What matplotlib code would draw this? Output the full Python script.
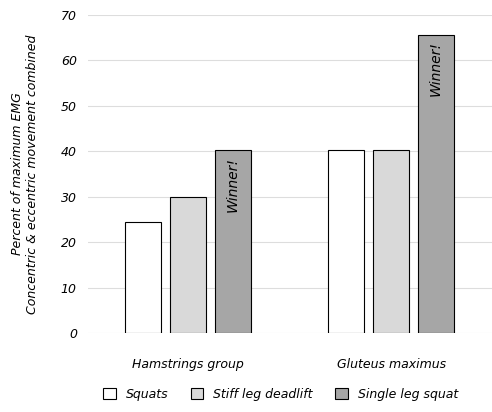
import matplotlib
matplotlib.use("Agg")
import matplotlib.pyplot as plt
import numpy as np

groups = ["Hamstrings group", "Gluteus maximus"]
series = ["Squats", "Stiff leg deadlift", "Single leg squat"]
values = [[24.5, 40.3], [30.0, 40.3], [40.3, 65.7]]
colors = ["#ffffff", "#d9d9d9", "#a6a6a6"]

font = dict(family="DejaVu Sans", style="italic")
fig = plt.figure(figsize=(4.92, 4.12), dpi=100)
ax = fig.add_axes([88/492, 1-333/412, 404/492, 318/412])
x = np.arange(len(groups))
w = 0.177
step = 0.222
for i, (s, v, c) in enumerate(zip(series, values, colors)):
    bars = ax.bar(x + (i-1)*step, v, w, color=c, edgecolor="black", linewidth=0.8, label=s, zorder=3)
    if i == 2:
        for b in bars:
            ax.text(b.get_x()+b.get_width()/2, b.get_height()-1.5, "Winner!", rotation=90,
                    ha="center", va="top", fontsize=10, zorder=4, **font)
ax.set_xlim(-0.493, 1.497)
ax.set_ylim(0, 70)
ax.set_yticks(range(0, 71, 10))
ax.set_yticklabels([str(t) for t in range(0, 71, 10)], fontsize=9, **font)
ax.set_xticks(x)
ax.set_xticklabels(groups, fontsize=9, **font)
ax.tick_params(axis="x", length=0, pad=18)
ax.tick_params(axis="y", length=0, pad=8)
ax.grid(axis="y", color="#dddddd", linewidth=0.8, zorder=0)
for sp in ax.spines.values():
    sp.set_visible(False)
ax.set_ylabel("Percent of maximum EMG\nConcentric & eccentric movement combined", fontsize=9,
              labelpad=16, **font)
leg = fig.legend(loc="lower center", bbox_to_anchor=(0.57, 0.0), ncol=3, frameon=False,
                 prop=dict(size=9, style="italic"), handlelength=1.0, handleheight=1.0, columnspacing=1.8)
fig.savefig("out.png", dpi=100)
